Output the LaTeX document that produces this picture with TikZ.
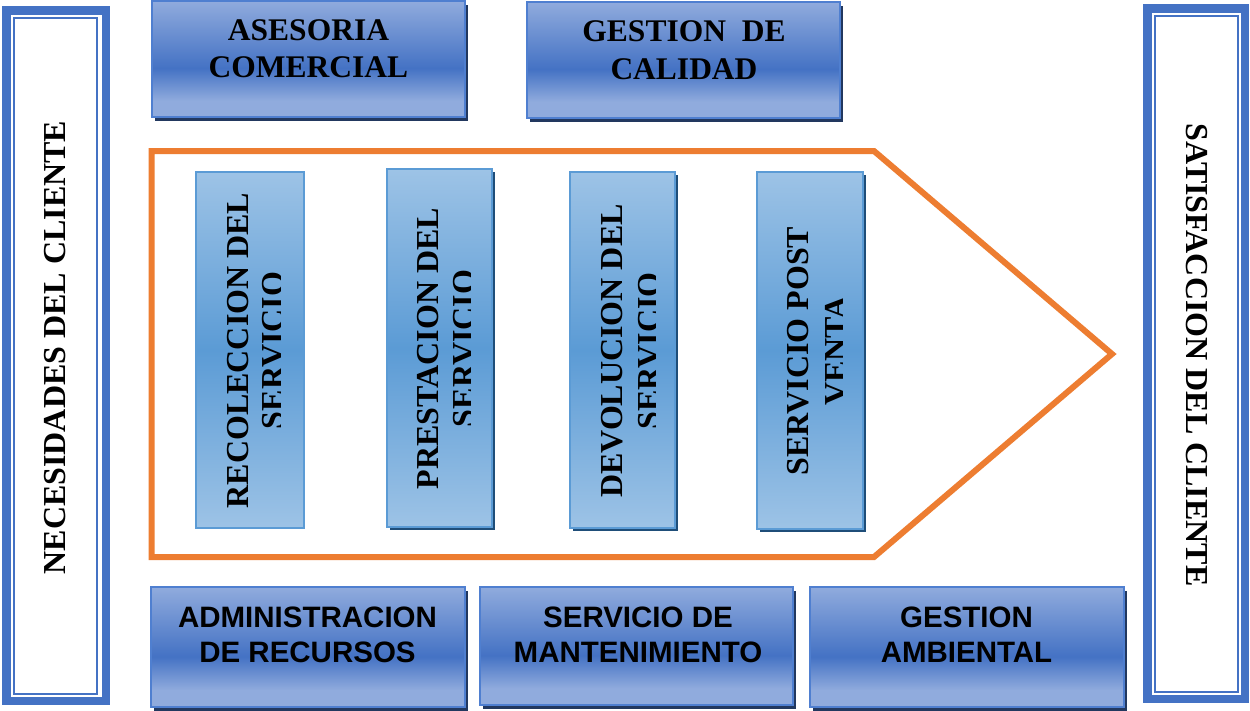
\documentclass[tikz,border=0pt]{standalone}
\usepackage{fontspec}
\setmainfont{Liberation Serif}
\newfontfamily\arialfont{Liberation Sans}
\usetikzlibrary{shadows}
\definecolor{frameblue}{HTML}{4472C4}
\definecolor{boxlight}{HTML}{90ABDD}
\definecolor{boxdark}{HTML}{4472C4}
\definecolor{boxedge}{HTML}{4F7FD0}
\definecolor{boxshadow}{HTML}{22385F}
\definecolor{innerlight}{HTML}{9DC3E6}
\definecolor{innerdark}{HTML}{5B9BD5}
\definecolor{inneredge}{HTML}{5B9BD5}
\definecolor{innershadow}{HTML}{1F4E79}
\definecolor{chevron}{HTML}{ED7D31}
\pgfdeclareverticalshading{bandshade}{100bp}{color(0bp)=(boxlight); color(25bp)=(boxlight); color(32bp)=(boxlight); color(46bp)=(boxdark); color(75bp)=(boxlight); color(100bp)=(boxlight)}
\tikzset{
  bandbox/.style={rectangle, draw=boxedge, line width=2pt, shading=bandshade,
    minimum width=313pt, minimum height=117pt, inner sep=0pt,
    drop shadow={shadow xshift=3pt, shadow yshift=-4pt, fill=boxshadow, opacity=1}},
  stagebox/.style={rectangle, draw=inneredge, line width=2pt,
    top color=innerlight, bottom color=innerlight, middle color=innerdark,
    minimum width=106pt, minimum height=356pt, inner sep=0pt},
  stageshadow/.style={drop shadow={shadow xshift=3pt, shadow yshift=-3pt, fill=innershadow, opacity=1}},
  toplabel/.style={anchor=north, inner sep=0pt, align=center,
    font=\bfseries\fontsize{31.5}{37.5}\selectfont},
  bottomlabel/.style={anchor=north, inner sep=0pt, align=center,
    font=\arialfont\bfseries\fontsize{29.5}{35.5}\selectfont},
  stagelabel/.style={rotate=90, anchor=north, inner sep=0pt, align=center},
  sidelabel/.style={anchor=base, inner sep=0pt, font=\bfseries\fontsize{32}{36}\selectfont},
  thickframe/.style={draw=frameblue, line width=8.5pt},
  thinframe/.style={draw=frameblue, line width=2pt},
}
\begin{document}
\begin{tikzpicture}[x=1pt, y=-1pt]
\useasboundingbox (0,0) rectangle (1250,710);
\fill[white] (0,0) rectangle (1250,710);

% side frames
\draw[thickframe] (6.25,10.25) rectangle (105.75,700.75);
\draw[thinframe] (13.7,17.5) rectangle (97,693.5);
\draw[thickframe] (1147.25,8.25) rectangle (1244.9,698.9);
\draw[thinframe] (1154.7,15.5) rectangle (1237.8,691.7);
\node[sidelabel, rotate=90] (nec) at (65,347.5) {NECESIDADES DEL CLIENTE};
\node[sidelabel, rotate=-90] (sat) at (1186,355) {SATISFACCION DEL CLIENTE};

% top boxes
\node[bandbox, minimum height=116pt] (ases) at (308.5,59) {};
\node[toplabel] (asesT) at (308.5,19) {ASESORIA\\COMERCIAL};
\node[bandbox, minimum height=116pt] (gest) at (683.5,60) {};
\node[toplabel] (gestT) at (684,20.5) {GESTION\ \ DE\\CALIDAD};

% chevron
\draw[chevron, line width=6pt, line join=miter]
  (151.5,151) -- (874,151) -- (1112,354) -- (874,557) -- (151.5,557) -- cycle;

% stage boxes
\node[stagebox, minimum width=108pt] (s1) at (250,350) {};
\node[stagebox, stageshadow, minimum width=105pt, minimum height=358pt] (s2) at (439.5,348) {};
\node[stagebox, stageshadow, minimum width=105pt] (s3) at (622.5,350) {};
\node[stagebox, stageshadow, minimum height=357pt] (s4) at (810,350.5) {};

\begin{scope}
  \clip (s1.south west) rectangle ([xshift=-25pt]s1.north east);
  \node[stagelabel, font=\bfseries\fontsize{32}{35.5}\selectfont] (s1T) at (227,350.5) {RECOLECCION DEL\\SERVICIO};
\end{scope}
\begin{scope}
  \clip (s2.south west) rectangle ([xshift=-22.3pt]s2.north east);
  \node[stagelabel, font=\bfseries\fontsize{32}{36}\selectfont] (s2T) at (417,348.5) {PRESTACION DEL\\SERVICIO};
\end{scope}
\begin{scope}
  \clip (s3.south west) rectangle ([xshift=-20.3pt]s3.north east);
  \node[stagelabel, font=\bfseries\fontsize{32}{37}\selectfont] (s3T) at (601,351) {DEVOLUCION DEL\\SERVICIO};
\end{scope}
\begin{scope}
  \clip (s4.south west) rectangle ([xshift=-21.3pt]s4.north east);
  \node[stagelabel, font=\bfseries\fontsize{32}{38}\selectfont] (s4T) at (787,351) {SERVICIO POST\\VENTA};
\end{scope}

% bottom boxes
\node[bandbox, minimum width=314pt, minimum height=120pt] (adm) at (308,647) {};
\node[bottomlabel] (admT) at (307.5,606.5) {ADMINISTRACION\\DE RECURSOS};
\node[bandbox, minimum height=118pt] (mant) at (636.5,646) {};
\node[bottomlabel] (mantT) at (638,606.5) {SERVICIO DE\\MANTENIMIENTO};
\node[bandbox, minimum width=314pt, minimum height=120pt] (amb) at (967,647) {};
\node[bottomlabel] (ambT) at (966.5,606.5) {GESTION\\AMBIENTAL};
\end{tikzpicture}
\end{document}
